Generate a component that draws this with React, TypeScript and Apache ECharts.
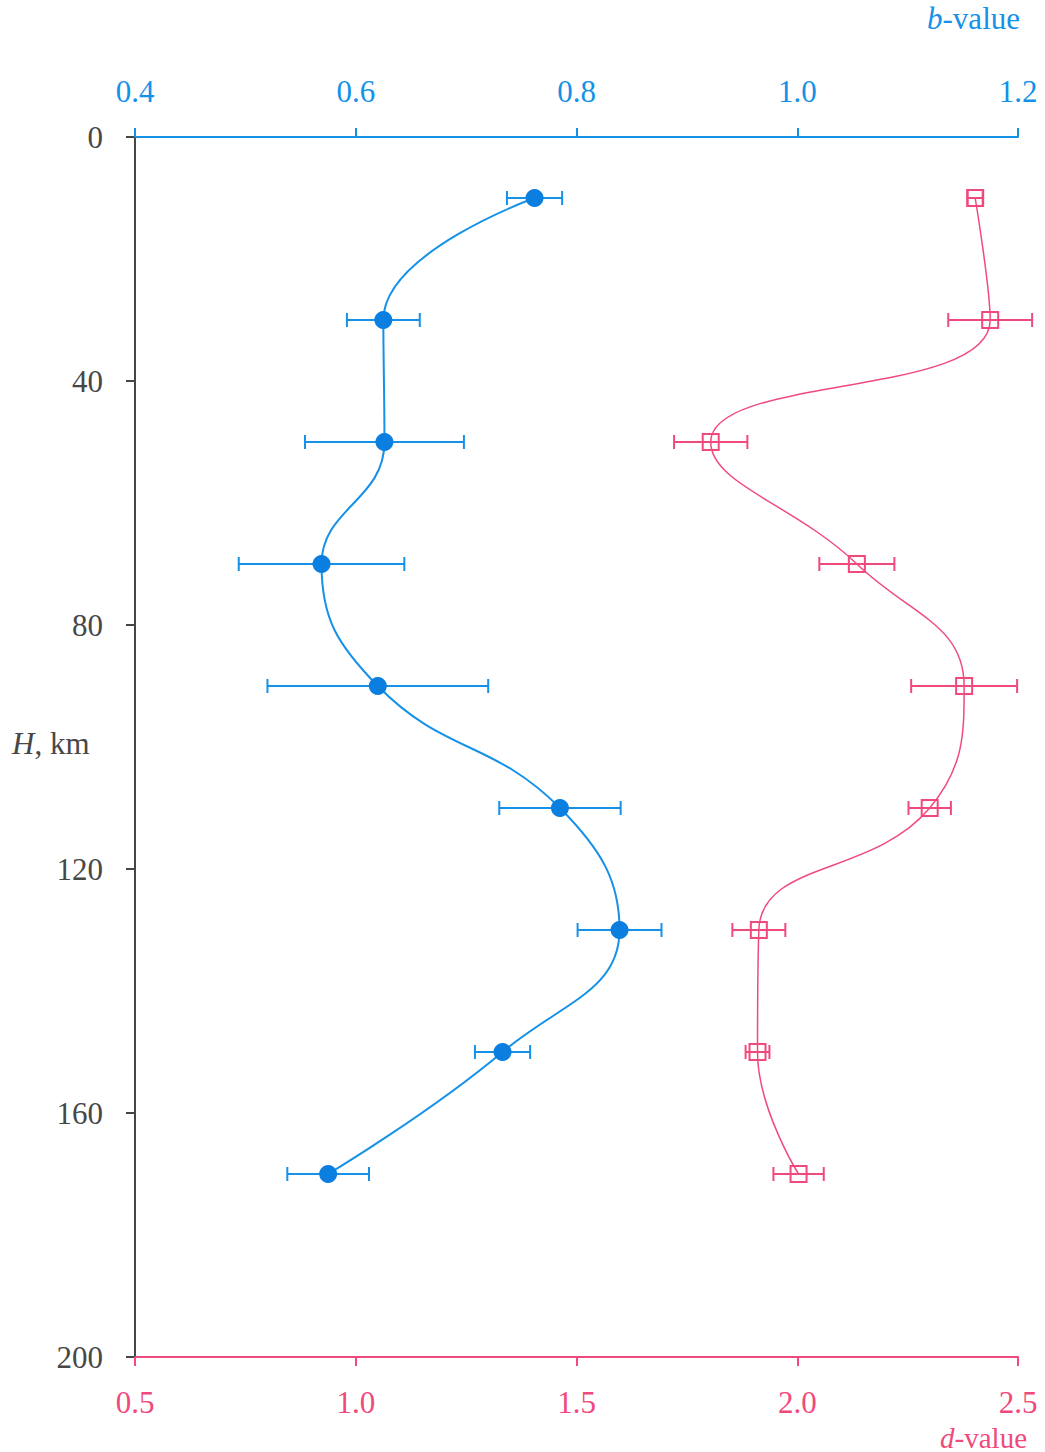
import React, { useEffect, useRef } from "react";
import * as echarts from "echarts";

const depths = [10, 30, 50, 70, 90, 110, 130, 150, 170];
const bValues = [0.762, 0.625, 0.626, 0.569, 0.62, 0.785, 0.839, 0.733, 0.575];
const bErrors = [0.025, 0.033, 0.072, 0.075, 0.1, 0.055, 0.038, 0.025, 0.037];
const dValues = [2.403, 2.437, 1.804, 2.135, 2.378, 2.3, 1.913, 1.91, 2.003];
const dErrors = [0.017, 0.095, 0.083, 0.085, 0.12, 0.048, 0.06, 0.027, 0.057];
const bTicks = [0.4, 0.6, 0.8, 1.0, 1.2];
const dTicks = [0.5, 1.0, 1.5, 2.0, 2.5];
const hTicks = [0, 40, 80, 120, 160, 200];

const BLUE = "#1591e8";
const BLUE_DARK = "#0a7fe0";
const PINK = "#f04a7d";
const GRAY = "#474747";
const FONT = "Liberation Serif";

function errorBarSeries(values: number[], errors: number[], axisIndex: number, color: string) {
  const data = depths.map((h, i) => [values[i] - errors[i], values[i] + errors[i], h]);
  return {
    type: "custom",
    xAxisIndex: axisIndex,
    yAxisIndex: 0,
    z: 1,
    silent: true,
    data,
    encode: { x: [0, 1], y: 2 },
    renderItem: (params: any, api: any) => {
      const lo = api.coord([api.value(0), api.value(2)]);
      const hi = api.coord([api.value(1), api.value(2)]);
      const cap = 7;
      const style = { stroke: color, lineWidth: 2, fill: "none" };
      return {
        type: "group",
        children: [
          { type: "line", shape: { x1: lo[0], y1: lo[1], x2: hi[0], y2: hi[1] }, style },
          { type: "line", shape: { x1: lo[0], y1: lo[1] - cap, x2: lo[0], y2: lo[1] + cap }, style },
          { type: "line", shape: { x1: hi[0], y1: hi[1] - cap, x2: hi[0], y2: hi[1] + cap }, style },
        ],
      };
    },
  };
}

export default function App() {
  const ref = useRef<HTMLDivElement>(null);
  useEffect(() => {
    if (!ref.current) return;
    const chart = echarts.init(ref.current, null, { renderer: "svg" });
    const option: any = {
      animation: false,
      backgroundColor: "#ffffff",
      textStyle: { fontFamily: FONT },
      grid: { left: 135, right: 27, top: 137, bottom: 95, containLabel: false },
      xAxis: [
        {
          type: "value",
          position: "top",
          min: 0.4,
          max: 1.2,
          interval: 0.2,
          axisLine: { show: true, onZero: false, lineStyle: { color: BLUE, width: 2 } },
          axisTick: { show: true, inside: false, length: 9, lineStyle: { color: BLUE, width: 2 } },
          splitLine: { show: false },
          axisLabel: {
            color: BLUE,
            fontSize: 31,
            fontFamily: FONT,
            margin: 30,
            formatter: (v: number) => v.toFixed(1),
            customValues: bTicks,
          },
        },
        {
          type: "value",
          position: "bottom",
          min: 0.5,
          max: 2.5,
          interval: 0.5,
          axisLine: { show: true, onZero: false, lineStyle: { color: PINK, width: 2 } },
          axisTick: { show: true, inside: false, length: 9, lineStyle: { color: PINK, width: 2 } },
          splitLine: { show: false },
          axisLabel: {
            color: PINK,
            fontSize: 31,
            fontFamily: FONT,
            margin: 30,
            formatter: (v: number) => v.toFixed(1),
            customValues: dTicks,
          },
        },
      ],
      yAxis: {
        type: "value",
        inverse: true,
        min: 0,
        max: 200,
        interval: 40,
        axisLine: { show: true, onZero: false, lineStyle: { color: GRAY, width: 2 } },
        axisTick: { show: true, inside: false, length: 9, lineStyle: { color: GRAY, width: 2 } },
        splitLine: { show: false },
        axisLabel: {
          color: GRAY,
          fontSize: 31,
          fontFamily: FONT,
          margin: 32,
          customValues: hTicks,
        },
      },
      graphic: [
        {
          type: "text",
          right: 25,
          top: 3,
          style: {
            text: "{i|b}{n|-value}",
            rich: {
              i: { fontStyle: "italic", fontSize: 31, fontFamily: FONT, fill: BLUE },
              n: { fontSize: 31, fontFamily: FONT, fill: BLUE },
            },
          },
        },
        {
          type: "text",
          right: 18,
          top: 1423,
          style: {
            text: "{i|d}{n|-value}",
            rich: {
              i: { fontStyle: "italic", fontSize: 29, fontFamily: FONT, fill: PINK },
              n: { fontSize: 29, fontFamily: FONT, fill: PINK },
            },
          },
        },
        {
          type: "text",
          left: 12,
          top: 728,
          style: {
            text: "{i|H}{n|, km}",
            rich: {
              i: { fontStyle: "italic", fontSize: 31, fontFamily: FONT, fill: GRAY },
              n: { fontSize: 31, fontFamily: FONT, fill: GRAY },
            },
          },
        },
      ],
      series: [
        errorBarSeries(bValues, bErrors, 0, BLUE),
        errorBarSeries(dValues, dErrors, 1, PINK),
        {
          type: "line",
          xAxisIndex: 0,
          yAxisIndex: 0,
          z: 2,
          smooth: 0.45,
          data: depths.map((h, i) => [bValues[i], h]),
          symbol: "circle",
          symbolSize: 18,
          itemStyle: { color: BLUE_DARK },
          lineStyle: { color: BLUE, width: 2 },
        },
        {
          type: "line",
          xAxisIndex: 1,
          yAxisIndex: 0,
          z: 2,
          smooth: 0.45,
          data: depths.map((h, i) => [dValues[i], h]),
          symbol: "rect",
          symbolSize: 16,
          itemStyle: { color: "rgba(255,255,255,0)", borderColor: PINK, borderWidth: 2 },
          lineStyle: { color: PINK, width: 1.5 },
        },
      ],
    };
    chart.setOption(option);
    return () => chart.dispose();
  }, []);
  return (
    <div
      ref={ref}
      style={{ position: "fixed", left: 0, top: 0, width: 1045, height: 1452, background: "#fff" }}
    />
  );
}
